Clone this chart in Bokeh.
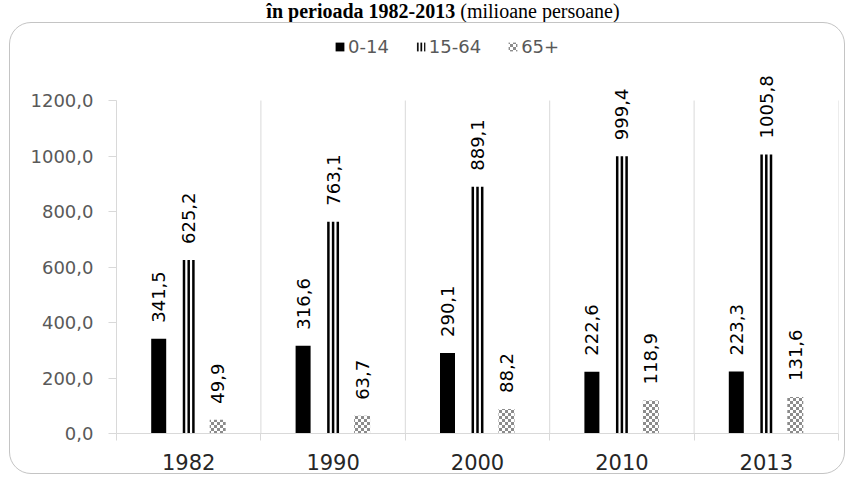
import math, struct, zlib, base64
from bokeh.plotting import figure
from bokeh.layouts import column
from bokeh.models import (ColumnDataSource, FixedTicker, LabelSet, Legend, LegendItem,
                          Range1d, ImageURLTexture, Div)
from bokeh.transform import dodge
from bokeh.core.properties import value
from bokeh.embed import file_html
from bokeh.resources import INLINE

# ---------------- data ----------------
years = ["1982", "1990", "2000", "2010", "2013"]
age_0_14 = [341.5, 316.6, 290.1, 222.6, 223.3]
age_15_64 = [625.2, 763.1, 889.1, 999.4, 1005.8]
age_65_plus = [49.9, 63.7, 88.2, 118.9, 131.6]
series_names = ["0-14", "15-64", "65+"]
y_ticks = [0, 200, 400, 600, 800, 1000, 1200]
y_tick_labels = ["0,0", "200,0", "400,0", "600,0", "800,0", "1000,0", "1200,0"]
title_bold = "în perioada 1982-2013"
title_rest = "(milioane persoane)"

# ---------------- helpers ----------------
def fmt(v):
    return f"{v:.1f}".replace(".", ",")

def png_uri(w, h, pix):
    raw = b"".join(b"\x00" + bytes(c for px in row for c in px) for row in pix)
    def chunk(t, d):
        return struct.pack(">I", len(d)) + t + d + struct.pack(">I", zlib.crc32(t + d) & 0xffffffff)
    data = (b"\x89PNG\r\n\x1a\n" + chunk(b"IHDR", struct.pack(">IIBBBBB", w, h, 8, 2, 0, 0, 0))
            + chunk(b"IDAT", zlib.compress(raw)) + chunk(b"IEND", b""))
    return "data:image/png;base64," + base64.b64encode(data).decode()

GRAY_C = (140, 140, 140)
WHITE = (255, 255, 255)
cell = 3
checker = [[GRAY_C if ((x // cell) + (y // cell)) % 2 == 0 else WHITE for x in range(2 * cell)]
           for y in range(2 * cell)]
checker_uri = png_uri(2 * cell, 2 * cell, checker)

n = len(years)
xc = [i + 0.5 for i in range(n)]
source = ColumnDataSource(dict(
    xc=xc, a=age_0_14, b=age_15_64, c=age_65_plus,
    la=[fmt(v) for v in age_0_14], lb=[fmt(v) for v in age_15_64], lc=[fmt(v) for v in age_65_plus],
    pat=["pat"] * n,
))

# ---------------- layout ----------------
TOTAL_W, TOTAL_H = 848, 477
TITLE_H = 22
BORDER = 1.5
MARGIN_L = 9
CW = TOTAL_W - MARGIN_L - 3
CH = TOTAL_H - TITLE_H - 3
F_LEFT, F_RIGHT, F_TOP, F_BOTTOM = 106, 828, 8, 410
Y_MAX = max(y_ticks)
Y_MAX_PX = 77  # canvas y of the top tick
PX_PER_UNIT = (F_BOTTOM - Y_MAX_PX) / Y_MAX
Y_TOP = Y_MAX + (Y_MAX_PX - F_TOP) / PX_PER_UNIT
CAT_PX = (F_RIGHT - F_LEFT) / n

p = figure(width=CW, height=CH, output_backend="svg", toolbar_location=None, title=None,
           x_range=Range1d(0, n), y_range=Range1d(0, Y_TOP),
           min_border_left=F_LEFT, min_border_right=CW - F_RIGHT,
           min_border_top=F_TOP, min_border_bottom=CH - F_BOTTOM, margin=0)
p.outline_line_color = None
p.background_fill_alpha = 0
p.border_fill_alpha = 0
p.xgrid.visible = False
p.ygrid.visible = False
p.styles = {"border": f"{BORDER}px solid #C4C4C4", "border-radius": "22px",
            "margin-left": f"{MARGIN_L}px"}

AX = "#D9D9D9"
FONT = "DejaVu Sans"

# y axis
p.yaxis.ticker = FixedTicker(ticks=y_ticks, minor_ticks=[])
p.yaxis.major_label_overrides = {t: l for t, l in zip(y_ticks, y_tick_labels)}
p.yaxis.bounds = (0, Y_MAX)
p.yaxis.axis_line_color = AX
p.yaxis.major_tick_line_color = AX
p.yaxis.major_tick_out = 8
p.yaxis.major_tick_in = 0
p.yaxis.minor_tick_line_color = None
p.yaxis.major_label_standoff = 15
p.yaxis.major_label_text_font = FONT
p.yaxis.major_label_text_font_size = "18px"
p.yaxis.major_label_text_color = "#595959"

# x axis
p.xaxis.ticker = FixedTicker(ticks=xc, minor_ticks=list(range(n + 1)))
p.xaxis.major_label_overrides = {x: y for x, y in zip(xc, years)}
p.xaxis.axis_line_color = AX
p.xaxis.major_tick_line_color = None
p.xaxis.major_tick_out = 0
p.xaxis.major_tick_in = 0
p.xaxis.minor_tick_line_color = AX
p.xaxis.minor_tick_out = 7
p.xaxis.minor_tick_in = 0
p.xaxis.major_label_standoff = 13
p.xaxis.major_label_text_font = FONT
p.xaxis.major_label_text_font_size = "21px"
p.xaxis.major_label_text_color = "#262626"

# category separators
bounds = list(range(1, n + 1))
p.segment(x0=bounds, y0=[0] * n, x1=bounds, y1=[Y_MAX] * n, line_color=AX, line_width=1)

# bars
OFF_A, OFF_B, OFF_C = -30 / CAT_PX, 0.0, 29 / CAT_PX
rA = p.vbar(x=dodge("xc", OFF_A, range=p.x_range), top="a", width=15 / CAT_PX, source=source,
            fill_color="black", line_color=None)
STRIPE_W, STRIPE_GAP = 2.5 / CAT_PX, 4.7 / CAT_PX
for k in (-1, 0, 1):
    p.vbar(x=dodge("xc", OFF_B + k * STRIPE_GAP, range=p.x_range), top="b", width=STRIPE_W,
           source=source, fill_color="black", line_color=None)
rB_legend = p.vbar(x=dodge("xc", OFF_B, range=p.x_range), top="b", width=0, source=source,
                   fill_color="white", line_color=None, hatch_pattern="vertical_line",
                   hatch_color="black", hatch_scale=3.6, hatch_weight=1.8)
rC = p.vbar(x=dodge("xc", OFF_C, range=p.x_range), top="c", width=16 / CAT_PX, source=source,
            fill_color="white", line_color=None, hatch_pattern="pat",
            hatch_extra={"pat": ImageURLTexture(url=checker_uri)})

# data labels
for off, col in ((OFF_A, "la"), (OFF_B, "lb"), (OFF_C, "lc")):
    p.add_layout(LabelSet(x=dodge("xc", off, range=p.x_range), y=col[1], text=col, source=source,
                          angle=math.pi / 2, text_align="left", text_baseline="middle",
                          y_offset=16, text_font=value(FONT), text_font_size=value("18px"),
                          text_color="black"))

# legend
legend = Legend(items=[LegendItem(label=series_names[0], renderers=[rA]),
                       LegendItem(label=series_names[1], renderers=[rB_legend]),
                       LegendItem(label=series_names[2], renderers=[rC])],
                orientation="horizontal", location=(218, F_BOTTOM - 34),
                glyph_width=11, glyph_height=11, label_standoff=3, spacing=26,
                padding=0, margin=0, border_line_color=None, background_fill_alpha=0,
                label_text_font=FONT, label_text_font_size="18px", label_text_color="#595959")
p.add_layout(legend)

# title line above the chart box
title = Div(text=f"<b>{title_bold}</b> {title_rest}", width=TOTAL_W, height=TITLE_H, margin=0,
            styles={"font-family": "'Liberation Serif', serif", "font-size": "20px",
                    "line-height": f"{TITLE_H}px", "text-align": "center",
                    "padding-left": "38px", "color": "black", "white-space": "nowrap"})

layout = column(title, p, spacing=0, margin=0)
open("out.html", "w").write(file_html(layout, INLINE))
